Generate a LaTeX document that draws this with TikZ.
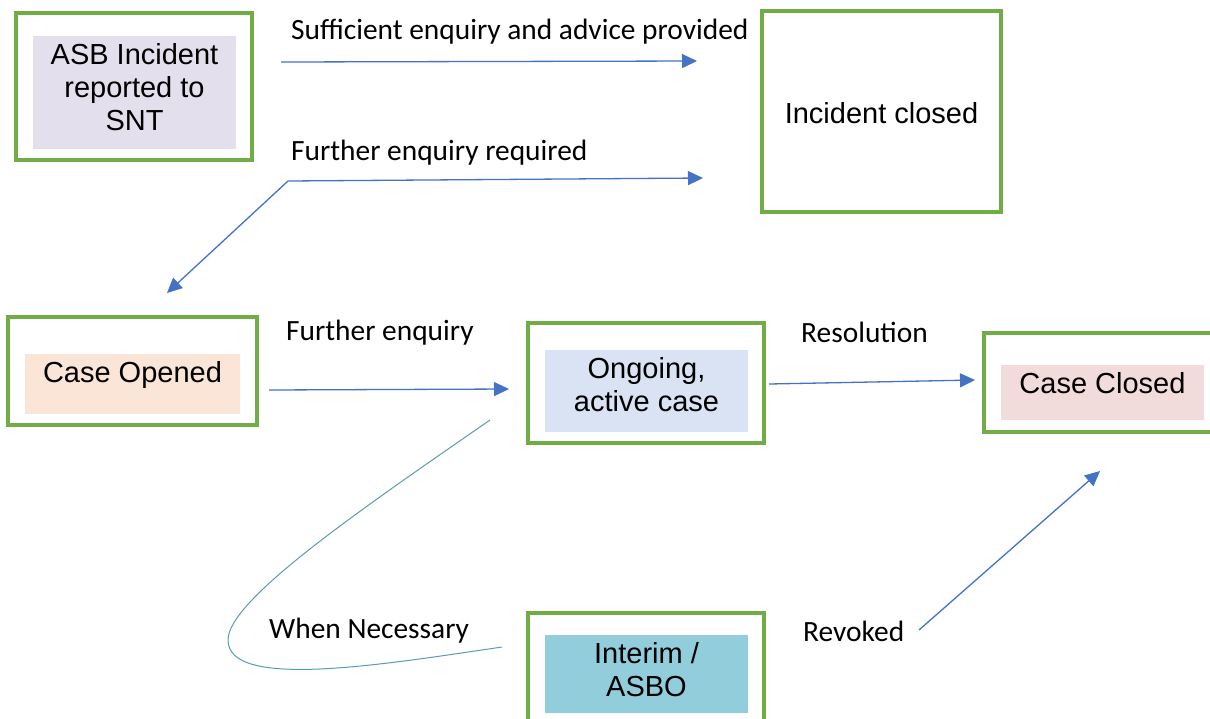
\documentclass[tikz,border=0pt]{standalone}
\usepackage{fontspec}
\setmainfont{Liberation Sans}
\newfontfamily\labfont{Carlito}
\usetikzlibrary{arrows.meta}
\definecolor{boxgreen}{HTML}{70AD47}
\definecolor{arrblue}{HTML}{4472C4}
\definecolor{curveteal}{HTML}{5B9BB0}
\definecolor{fillasb}{HTML}{E4DFEC}
\definecolor{fillopen}{HTML}{FBE5D6}
\definecolor{fillongo}{HTML}{DAE3F3}
\definecolor{fillclosed}{HTML}{F2DCDB}
\definecolor{fillasbo}{HTML}{92CDDC}
\begin{document}
\begin{tikzpicture}[x=1pt,y=-1pt,
  outerbox/.style={draw=boxgreen, line width=3.2pt, inner sep=0pt},
  fillbox/.style={fill=#1, inner sep=0pt},
  boxtext/.style={font=\fontsize{29}{33}\selectfont, align=center, inner sep=0pt},
  lbl/.style={font=\labfont\fontsize{29.4}{33}\selectfont, anchor=west, inner sep=0pt},
  flow/.style={draw=arrblue, line width=1.3pt, -{Triangle[length=15pt,width=14pt]}},
  loopline/.style={draw=curveteal, line width=1pt}]
\useasboundingbox (0,0) rectangle (1210,718);
\clip (0,0) rectangle (1210,718);
% outer boxes
\node[outerbox, minimum width=236pt, minimum height=147pt] (asbbox) at (134,86.5) {};
\node[outerbox, minimum width=239pt, minimum height=201pt] (incbox) at (881.5,111.5) {};
\node[outerbox, minimum width=249pt, minimum height=108pt] (openbox) at (132.5,371) {};
\node[outerbox, minimum width=236pt, minimum height=120pt] (ongobox) at (646,383) {};
\node[outerbox, minimum width=238pt, minimum height=99pt] (closedbox) at (1103,382.5) {};
\node[outerbox, minimum width=236pt, minimum height=122pt] (asbobox) at (646,674) {};
% inner fills
\node[fillbox=fillasb, minimum width=203pt, minimum height=113pt] (asbfill) at (134.5,92.5) {};
\node[fillbox=fillopen, minimum width=215pt, minimum height=60pt] (openfill) at (132.5,384) {};
\node[fillbox=fillongo, minimum width=203pt, minimum height=82pt] (ongofill) at (646.5,391) {};
\node[fillbox=fillclosed, minimum width=203pt, minimum height=55pt] (closedfill) at (1102.5,392.5) {};
\node[fillbox=fillasbo, minimum width=203pt, minimum height=78pt] (asbofill) at (646.5,674) {};
% texts
\node[boxtext] (asb) at (134.5,87) {ASB Incident\\reported to\\SNT};
\node[boxtext] (inc) at (881.5,113) {Incident closed};
\node[boxtext] (open) at (132.5,375) {Case Opened};
\node[boxtext] (ongo) at (646.5,384.5) {Ongoing,\\active case};
\node[boxtext] (closed) at (1102.5,383) {Case Closed};
\node[boxtext] (asbo) at (646.5,669.5) {Interim /\\ASBO};
% labels
\node[lbl] (l1) at (291,32) {Sufficient enquiry and advice provided};
\node[lbl] (l2) at (291,153) {Further enquiry required};
\node[lbl] (l3) at (286,333) {Further enquiry};
\node[lbl] (l4) at (801,332) {Resolution};
\node[lbl] (l5) at (269,631) {When Necessary};
\node[lbl] (l6) at (803,631) {Revoked};
% connector end points
\coordinate (s1) at (281,62);
\coordinate (e1) at (697,61);
\coordinate (s2) at (288,181);
\coordinate (e2) at (703,178);
\coordinate (e3) at (167,293);
\coordinate (s4) at (269,390);
\coordinate (e4) at (509,389);
\coordinate (s5) at (769,384);
\coordinate (e5) at (975,380);
\coordinate (s6) at (919,630);
\coordinate (e6) at (1100,471);
\coordinate (c0) at (490,420);
\coordinate (c1) at (228,640);
\coordinate (c2) at (502,647);
% connectors
\draw[flow] (s1) -- (e1);
\draw[flow] (s2) -- (e2);
\draw[flow] (s2) -- (e3);
\draw[flow] (s4) -- (e4);
\draw[flow] (s5) -- (e5);
\draw[flow] (s6) -- (e6);
\draw[loopline] (c0) .. controls (360,510) and (228,600) .. (c1)
  .. controls (228,690) and (380,665) .. (c2);
\end{tikzpicture}
\end{document}
